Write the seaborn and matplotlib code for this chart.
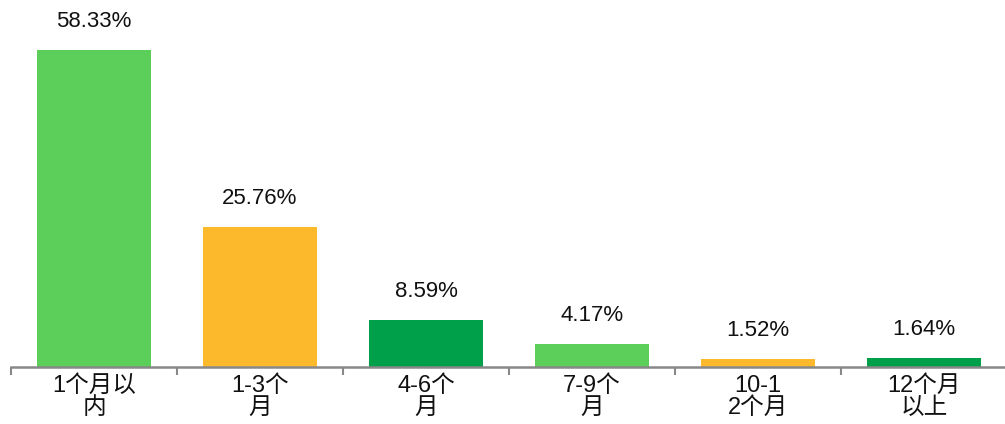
import pandas as pd
import numpy as np
import matplotlib.pyplot as plt
import seaborn as sns

categories = ['1个月以\n内', '1-3个\n月', '4-6个\n月', '7-9个\n月', '10-1\n2个月', '12个月\n以上']
values = [58.33, 25.76, 8.59, 4.17, 1.52, 1.64]
labels = ['58.33%', '25.76%', '8.59%', '4.17%', '1.52%', '1.64%']
colors = ['#5BCF5A', '#FDB92C', '#009F4A', '#5BCF5A', '#FDB92C', '#009F4A']

sns.set_style('white')
plt.rcParams['font.family'] = ['Liberation Sans', 'Noto Sans CJK SC', 'DejaVu Sans']

df = pd.DataFrame({'cat': categories, 'val': values})

fig = plt.figure(figsize=(10.05, 4.24), dpi=100)
ax = fig.add_axes([11 / 1005, 57 / 424, 996 / 1005, 367 / 424])

sns.barplot(data=df, x='cat', y='val', hue='cat', palette=colors,
            width=0.69, saturation=1, legend=False, linewidth=0, ax=ax)

for p, lab in zip(ax.patches, labels):
    ax.annotate(lab, (p.get_x() + p.get_width() / 2, p.get_height()),
                xytext=(0, 13), textcoords='offset points',
                ha='center', va='bottom', fontsize=16, color='#111111')

ax.set_ylim(0, 67.5)
ax.set_xlim(-0.5, 5.5)
ax.set_xlabel('')
ax.set_ylabel('')
ax.set_yticks([])

for s in ['top', 'right', 'left']:
    ax.spines[s].set_visible(False)
ax.spines['bottom'].set_color('#888888')
ax.spines['bottom'].set_linewidth(1.8)

# ticks between categories, labels centered
ax.set_xticks(np.arange(-0.5, 6, 1), minor=False)
ax.set_xticklabels([''] * 7)
ax.tick_params(axis='x', which='major', direction='out', length=6, width=1.5, color='#888888', bottom=True)
ax.set_xticks(np.arange(6), minor=True)
ax.set_xticklabels(categories, minor=True, fontsize=17, linespacing=1.0)
ax.tick_params(axis='x', which='minor', length=0, pad=6, labelcolor='#111111')

fig.savefig('out.png', dpi=100)
